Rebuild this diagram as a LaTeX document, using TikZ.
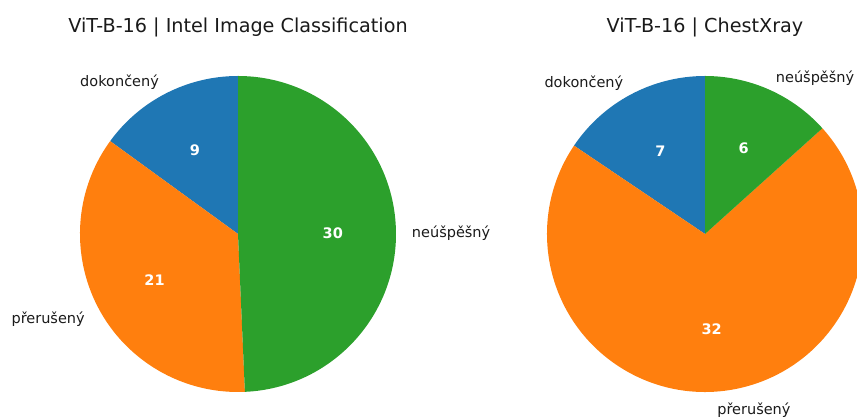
\documentclass[tikz,border=0pt]{standalone}
\usepackage{fontspec}
\setmainfont{DejaVu Sans}
\definecolor{tabblue}{HTML}{1F77B4}
\definecolor{taborange}{HTML}{FF7F0E}
\definecolor{tabgreen}{HTML}{2CA02C}
\definecolor{inkgray}{HTML}{1A1A1A}
\begin{document}
\begin{tikzpicture}[x=1pt,y=1pt,
  charttitle/.style={font=\fontsize{19.2}{22}\selectfont, text=inkgray, inner sep=0pt, yshift=-2pt},
  slicelabel/.style={font=\fontsize{14.5}{17}\selectfont, text=inkgray, inner sep=0pt, yshift=-3pt},
  slicevalue/.style={font=\fontsize{14.5}{17}\selectfont\bfseries, text=white, inner sep=0pt, yshift=-1pt}]
\useasboundingbox (0,0) rectangle (857,417);
\begin{scope}
\clip (0,0) rectangle (857,417);

% ---- left chart: Intel Image Classification ----
\coordinate (cL) at (238,183);
\def\R{158}
\fill[tabblue]   (cL) -- ([shift={(90:\R)}]cL)    arc[start angle=90,    end angle=144,   radius=\R] -- cycle;
\fill[taborange] (cL) -- ([shift={(144:\R)}]cL)   arc[start angle=144,   end angle=272.5, radius=\R] -- cycle;
\fill[tabgreen]  (cL) -- ([shift={(272.5:\R)}]cL) arc[start angle=272.5, end angle=450,   radius=\R] -- cycle;

\node[charttitle] (titleL) at (238,392) {ViT-B-16 | Intel Image Classification};
\node[slicelabel, anchor=east] (labL1) at ([shift={(117:173.8)}]cL)    {dokončený};
\node[slicelabel, anchor=east] (labL2) at ([shift={(208.25:173.8)}]cL) {přerušený};
\node[slicelabel, anchor=west] (labL3) at ([shift={(1.25:173.8)}]cL)   {neúšpěšný};
\node[slicevalue] (valL1) at ([shift={(117:94.8)}]cL)    {9};
\node[slicevalue] (valL2) at ([shift={(208.25:94.8)}]cL) {21};
\node[slicevalue] (valL3) at ([shift={(1.25:94.8)}]cL)   {30};

% ---- right chart: ChestXray ----
\coordinate (cR) at (705,183);
\fill[tabblue]   (cR) -- ([shift={(90:\R)}]cR)  arc[start angle=90,  end angle=146, radius=\R] -- cycle;
\fill[taborange] (cR) -- ([shift={(146:\R)}]cR) arc[start angle=146, end angle=402, radius=\R] -- cycle;
\fill[tabgreen]  (cR) -- ([shift={(42:\R)}]cR)  arc[start angle=42,  end angle=90,  radius=\R] -- cycle;

\node[charttitle] (titleR) at (705,392) {ViT-B-16 | ChestXray};
\node[slicelabel, anchor=east] (labR1) at ([shift={(118:173.8)}]cR) {dokončený};
\node[slicelabel, anchor=west] (labR2) at ([shift={(274:173.8)}]cR) {přerušený};
\node[slicelabel, anchor=west] (labR3) at ([shift={(66:173.8)}]cR)  {neúšpěšný};
\node[slicevalue] (valR1) at ([shift={(118:94.8)}]cR) {7};
\node[slicevalue] (valR2) at ([shift={(274:94.8)}]cR) {32};
\node[slicevalue] (valR3) at ([shift={(66:94.8)}]cR)  {6};
\end{scope}
\end{tikzpicture}
\end{document}
